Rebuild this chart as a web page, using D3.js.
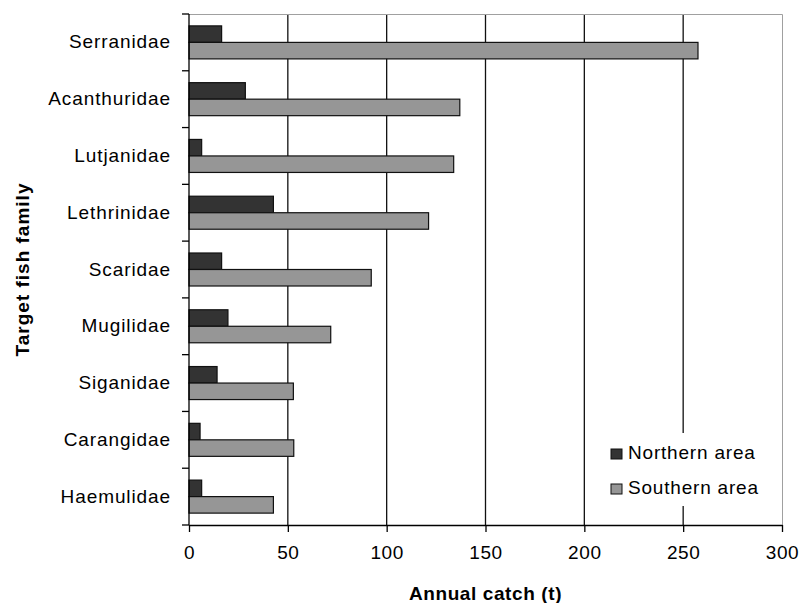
<!DOCTYPE html>
<html lang="en">
<head>
  <meta charset="UTF-8">
  <title>Annual catch by target fish family</title>
  <script src="https://d3js.org/d3.v7.min.js"></script>
  <style>
    body { margin: 0; background: #fff; }
    svg text { font-family: "Liberation Sans", Arial, sans-serif; fill: #000; }
  </style>
</head>
<body>
  <svg></svg>
  <script>
  // data
  const families = ["Serranidae", "Acanthuridae", "Lutjanidae", "Lethrinidae", "Scaridae",
                    "Mugilidae", "Siganidae", "Carangidae", "Haemulidae"];
  const northern = [16.5, 28.5, 6.4, 42.7, 16.5, 19.7, 14.2, 5.6, 6.4];
  const southern = [257.5, 137, 133.9, 121.2, 92.2, 71.7, 52.8, 53, 42.7];
  const seriesNames = ["Northern area", "Southern area"];
  const seriesColors = ["#333333", "#969696"];
  const xTicks = [0, 50, 100, 150, 200, 250, 300];

  const W = 800, H = 603;
  const plotLeft = 189, plotRight = 782, plotTop = 14, plotBottom = 525;

  const svg = d3.select("svg")
    .attr("width", W)
    .attr("height", H);

  const x = d3.scaleLinear().domain([0, 300]).range([plotLeft, plotRight]);
  const y = d3.scaleBand().domain(families).range([plotTop, plotBottom]).padding(0);
  const sub = d3.scaleBand().domain(seriesNames).range([0, y.bandwidth()]).paddingOuter(0.72);

  // grid lines (vertical)
  svg.append("g")
    .selectAll("line")
    .data(xTicks.slice(1, -1))
    .join("line")
    .attr("x1", d => x(d)).attr("x2", d => x(d))
    .attr("y1", plotTop).attr("y2", plotBottom)
    .attr("stroke", "#111")
    .attr("stroke-width", 1.3);

  // plot border top + right (grey)
  svg.append("path")
    .attr("d", `M${plotLeft},${plotTop + 0.5}H${plotRight + 0.5}V${plotBottom}`)
    .attr("fill", "none")
    .attr("stroke", "#a0a0a0")
    .attr("stroke-width", 1);

  // bars
  const rows = families.map((f, i) => ({ f, values: [northern[i], southern[i]] }));
  const groups = svg.append("g")
    .selectAll("g")
    .data(rows)
    .join("g")
    .attr("transform", d => `translate(0,${y(d.f)})`);

  groups.selectAll("rect")
    .data(d => d.values.map((v, j) => ({ v, s: seriesNames[j], c: seriesColors[j] })))
    .join("rect")
    .attr("x", x(0))
    .attr("y", d => sub(d.s))
    .attr("width", d => x(d.v) - x(0))
    .attr("height", sub.bandwidth())
    .attr("fill", d => d.c)
    .attr("stroke", "#111")
    .attr("stroke-width", 1.2);

  // legend (white box sits over the grid)
  const legend = svg.append("g").attr("transform", "translate(603,433)");
  legend.append("rect")
    .attr("width", 176).attr("height", 73)
    .attr("fill", "#fff");
  seriesNames.forEach((s, i) => {
    const row = legend.append("g").attr("transform", `translate(8,${16 + i * 35})`);
    row.append("rect")
      .attr("width", 11).attr("height", 10)
      .attr("fill", seriesColors[i])
      .attr("stroke", "#111");
    row.append("text")
      .attr("x", 17).attr("y", 10)
      .attr("font-size", "19px")
      .attr("letter-spacing", "0.8px")
      .text(s);
  });

  // x axis
  const xAxis = svg.append("g")
    .attr("transform", `translate(0,${plotBottom})`)
    .call(d3.axisBottom(x).tickValues(xTicks).tickSize(7).tickSizeOuter(0).tickPadding(14));
  xAxis.select(".domain").attr("stroke", "#000").attr("stroke-width", 1.3);
  xAxis.selectAll(".tick line").attr("stroke", "#000").attr("stroke-width", 1.3);
  xAxis.selectAll("text")
    .attr("font-size", "19px")
    .attr("letter-spacing", "0.6px")
    .attr("fill", "#000");

  // extend x-axis line left to meet the y-axis ticks
  svg.append("line")
    .attr("x1", plotLeft - 7).attr("x2", plotLeft)
    .attr("y1", plotBottom).attr("y2", plotBottom)
    .attr("stroke", "#000").attr("stroke-width", 1.3);

  // y axis: labels at band centres, ticks at band boundaries
  const yAxis = svg.append("g")
    .attr("transform", `translate(${plotLeft},0)`)
    .call(d3.axisLeft(y).tickSize(0).tickPadding(18));
  yAxis.select(".domain").remove();
  yAxis.selectAll("text")
    .attr("font-size", "19px")
    .attr("letter-spacing", "0.9px")
    .attr("fill", "#000");

  svg.append("line")
    .attr("x1", plotLeft).attr("x2", plotLeft)
    .attr("y1", plotTop).attr("y2", plotBottom)
    .attr("stroke", "#000").attr("stroke-width", 1.3);

  svg.append("g")
    .selectAll("line")
    .data(families.map(f => y(f)))
    .join("line")
    .attr("x1", plotLeft - 7).attr("x2", plotLeft)
    .attr("y1", d => d).attr("y2", d => d)
    .attr("stroke", "#000").attr("stroke-width", 1.3);

  // axis titles
  svg.append("text")
    .attr("x", (plotLeft + plotRight) / 2)
    .attr("y", 600)
    .attr("text-anchor", "middle")
    .attr("font-size", "19px")
    .attr("font-weight", "bold")
    .attr("letter-spacing", "0.6px")
    .text("Annual catch (t)");

  svg.append("text")
    .attr("transform", `translate(29,${(plotTop + plotBottom) / 2}) rotate(-90)`)
    .attr("text-anchor", "middle")
    .attr("font-size", "19px")
    .attr("font-weight", "bold")
    .attr("letter-spacing", "1px")
    .text("Target fish family");
  </script>
</body>
</html>
